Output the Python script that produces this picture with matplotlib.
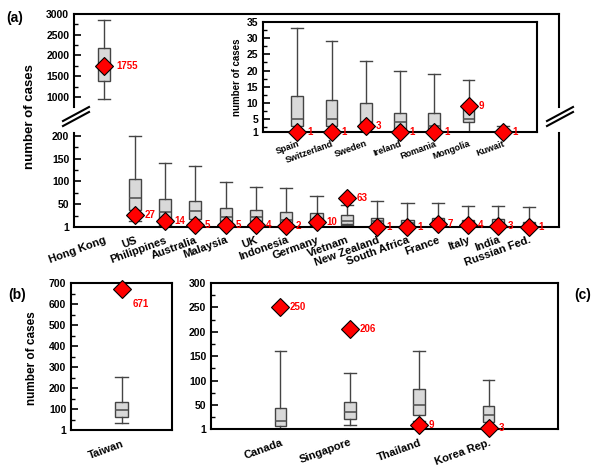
"""
Box plots of case counts per country, three panels (a), (b), (c),
with the observed count of each country shown as a red diamond.
"""

import matplotlib
matplotlib.use('Agg')
import matplotlib.pyplot as plt
from matplotlib.lines import Line2D


# ============== DATA ==============

# Panel (a), main axes (Hong Kong sits in the upper, broken part)
main_names = ['Hong Kong', 'US', 'Philippines', 'Australia', 'Malaysia', 'UK',
              'Indonesia', 'Germany', 'Vietnam', 'New Zealand', 'South Africa',
              'France', 'Italy', 'India', 'Russian Fed.']
main_lo = [950, 13, 5, 7, 6, 7, 5, 2, 4, 1, 1, 1, 1, 1, 1]
main_q1 = [1390, 37, 14, 17, 12, 14, 11, 5, 6, 4, 3, 4, 3, 3, 2]
main_med = [1750, 64, 33, 35, 22, 22, 16, 12, 14, 12, 8, 8, 8, 8, 6]
main_q3 = [2170, 105, 61, 58, 42, 38, 32, 30, 27, 20, 15, 19, 15, 17, 10]
main_hi = [2850, 200, 140, 133, 99, 87, 85, 68, 48, 56, 53, 53, 47, 46, 43]
main_obs = [1755, 27, 14, 5, 5, 4, 2, 10, 63, 1, 1, 7, 4, 3, 1]

# Panel (a), inset
inset_names = ['Spain', 'Switzerland', 'Sweden', 'Ireland', 'Romania', 'Mongolia', 'Kuwait']
inset_lo = [1, 1, 1, 1, 1, 1, 1]
inset_q1 = [3, 3, 2, 2, 2, 4, 1.2]
inset_med = [5, 5, 4, 4, 3, 5, 1.5]
inset_q3 = [12, 11, 10, 7, 7, 10, 2]
inset_hi = [33, 29, 23, 20, 19, 17, 3]
inset_obs = [1, 1, 3, 1, 1, 9, 1]

# Panel (b)
b_names = ['Taiwan']
b_lo = [34]
b_q1 = [65]
b_med = [96]
b_q3 = [134]
b_hi = [252]
b_obs = [671]

# Panel (c)
c_names = ['Canada', 'Singapore', 'Thailand', 'Korea Rep.']
c_lo = [2, 10, 17, 6]
c_q1 = [8, 21, 30, 15]
c_med = [18, 36, 50, 30]
c_q3 = [45, 56, 82, 48]
c_hi = [161, 116, 161, 101]
c_obs = [250, 206, 9, 3]


# ============== STYLE ==============

FIG_W, FIG_H = 600, 475
RED = '#ff0000'
BOX_FILL = '#d9d9d9'
BOX_EDGE = '#444444'

plt.rcParams['font.family'] = ['Liberation Sans', 'DejaVu Sans']
plt.rcParams['font.weight'] = 'bold'
plt.rcParams['axes.labelweight'] = 'bold'


def px_rect(left, top, right, bottom):
	"""Axes rectangle from pixel edges (origin at top left)"""
	return [left / FIG_W, 1 - bottom / FIG_H, (right - left) / FIG_W, (bottom - top) / FIG_H]


def px_point(x, y):
	return x / FIG_W, 1 - y / FIG_H


def draw_boxes(ax, lo, q1, med, q3, hi, obs, width, label_offsets=None):
	"""Draw box plots plus the observed value as a red diamond"""
	stats = []
	for i in range(len(lo)):
		stats.append({'whislo': lo[i], 'q1': q1[i], 'med': med[i], 'q3': q3[i], 'whishi': hi[i]})
	positions = list(range(len(lo)))
	ax.bxp(stats, positions=positions, widths=width, capwidths=width,
	       showfliers=False, patch_artist=True, manage_ticks=False,
	       boxprops=dict(facecolor=BOX_FILL, edgecolor=BOX_EDGE, linewidth=1),
	       medianprops=dict(color='#555555', linewidth=1.2),
	       whiskerprops=dict(color=BOX_EDGE, linewidth=1),
	       capprops=dict(color=BOX_EDGE, linewidth=1))

	y0, y1 = ax.get_ylim()
	for i, v in enumerate(obs):
		if v < y0 - 0.01 or v > y1:
			continue
		ax.plot(i, v, marker='D', ms=9, mfc=RED, mec='black', mew=0.8,
		        ls='none', clip_on=False, zorder=6)
		off = (7, 0)
		if label_offsets and i in label_offsets:
			off = label_offsets[i]
		ax.annotate(str(v), (i, v), xytext=off, textcoords='offset points',
		            color=RED, fontsize=7, fontweight='bold', va='center', ha='left',
		            annotation_clip=False, zorder=7)


def style_axes(ax, yticks, yminor, names, tick_size=7.5, label_size=8):
	for s in ax.spines.values():
		s.set_linewidth(1.5)
	ax.set_yticks(yticks)
	ax.set_yticks(yminor, minor=True)
	ax.tick_params(axis='y', which='major', direction='in', length=5, width=1.2,
	               labelsize=tick_size, right=False)
	ax.tick_params(axis='y', which='minor', direction='in', length=3, width=1, right=False)
	ax.set_xticks(range(len(names)))
	if names:
		ax.set_xticklabels(names, rotation=20, ha='right', rotation_mode='anchor',
		                   fontsize=label_size, fontweight='bold')
	ax.tick_params(axis='x', length=0, pad=6)


# ============== FIGURE ==============

fig = plt.figure(figsize=(6, 4.75), dpi=100)

# --- panel (a), upper part (broken axis) ---
ax_up = fig.add_axes(px_rect(74, 14, 559, 107))
ax_up.set_xlim(-1, 15)
ax_up.set_ylim(757, 3000)
draw_boxes(ax_up, main_lo, main_q1, main_med, main_q3, main_hi, main_obs, 0.4,
           label_offsets={0: (9, 0)})
style_axes(ax_up, [1000, 1500, 2000, 2500, 3000], [1250, 1750, 2250, 2750], [])
ax_up.set_xticks([])
ax_up.spines['bottom'].set_visible(False)

# --- panel (a), lower part ---
ax_lo = fig.add_axes(px_rect(74, 133, 559, 226.5))
ax_lo.set_xlim(-1, 15)
ax_lo.set_ylim(1, 206)
draw_boxes(ax_lo, main_lo, main_q1, main_med, main_q3, main_hi, main_obs, 0.4)
style_axes(ax_lo, [1, 50, 100, 150, 200], [25, 75, 125, 175], main_names)
ax_lo.spines['top'].set_visible(False)

# --- panel (a), inset ---
ax_in = fig.add_axes(px_rect(263, 22, 537, 132))
ax_in.set_xlim(-1, 7)
ax_in.set_ylim(1, 35)
draw_boxes(ax_in, inset_lo, inset_q1, inset_med, inset_q3, inset_hi, inset_obs, 0.35)
style_axes(ax_in, [1, 5, 10, 15, 20, 25, 30, 35], [2.5, 7.5, 12.5, 17.5, 22.5, 27.5, 32.5],
           inset_names, tick_size=7.5, label_size=6.5)
ax_in.tick_params(axis='x', pad=5)
ax_in.set_ylabel('number of cases', fontsize=7, labelpad=3)

# --- panel (b) ---
ax_b = fig.add_axes(px_rect(71, 283, 172, 430))
ax_b.set_xlim(-1, 1)
ax_b.set_ylim(1, 700)
draw_boxes(ax_b, b_lo, b_q1, b_med, b_q3, b_hi, b_obs, 0.26,
           label_offsets={0: (8, -11)})
style_axes(ax_b, [1, 100, 200, 300, 400, 500, 600, 700], [50, 150, 250, 350, 450, 550, 650], b_names)

# --- panel (c) ---
ax_c = fig.add_axes(px_rect(211, 283, 558, 429))
ax_c.set_xlim(-1, 4)
ax_c.set_ylim(1, 300)
draw_boxes(ax_c, c_lo, c_q1, c_med, c_q3, c_hi, c_obs, 0.17)
style_axes(ax_c, [1, 50, 100, 150, 200, 250, 300], [25, 75, 125, 175, 225, 275], c_names)

# --- break marks on the (a) axis ---
for bx in (63, 547):
	for dy in (0, 5):
		x0, y0 = px_point(bx, 121 + dy)
		x1, y1 = px_point(bx + 26, 107 + dy)
		fig.add_artist(Line2D([x0, x1], [y0, y1], color='black', lw=1.5))

# --- panel letters and shared y labels ---
fig.text(*px_point(15, 18), '(a)', fontsize=10, fontweight='bold', ha='center', va='center')
fig.text(*px_point(17, 295), '(b)', fontsize=10, fontweight='bold', ha='center', va='center')
fig.text(*px_point(583, 295), '(c)', fontsize=10, fontweight='bold', ha='center', va='center')
fig.text(*px_point(30, 117), 'number of cases', fontsize=9.5, fontweight='bold',
         rotation=90, ha='center', va='center')
fig.text(*px_point(32, 358), 'number of cases', fontsize=8.5, fontweight='bold',
         rotation=90, ha='center', va='center')

plt.savefig('out.png', dpi=100)
